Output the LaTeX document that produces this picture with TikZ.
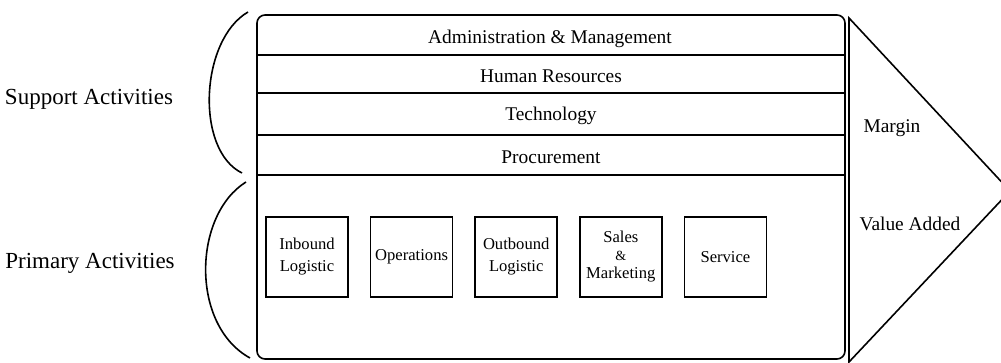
\documentclass[tikz,border=0pt]{standalone}
\usepackage{fontspec}
\setmainfont{Liberation Serif}
\usetikzlibrary{positioning}

\begin{document}
\begin{tikzpicture}[x=0.5pt,y=-0.5pt,line width=0.8pt,node distance=10.5pt,
		box node/.style = {rectangle,draw, inner sep = 0pt, minimum width = 41pt, minimum height = 40pt,
			align=center, font=\fontsize{8.3}{11}\selectfont},
		strip node/.style = {inner sep = 0pt, font=\fontsize{9.7}{11}\selectfont},
		side node/.style = {inner sep = 0pt, font=\fontsize{11.5}{13}\selectfont}]
	\useasboundingbox (0,0) rectangle (1001,363);
	
	% chain frame, support strips and margin arrow
	\draw[rounded corners=4pt] (257,15) rectangle (845,359);
	\foreach \y in {55,93,135,175}
		\draw (257,\y) -- (845,\y);
	\draw (849,18) -- (1010,191) -- (849,362) -- cycle;
	
	\node[strip node] (6) at (550,39) {Administration \& Management};
	\node[strip node] (7) at (551,76) {Human Resources};
	\node[strip node] (8) at (551,116) {Technology};
	\node[strip node] (9) at (551,157) {Procurement};
	
	\node[box node] (1) at (307,257) {Inbound\\Logistic};
	\node[box node] [right = of 1] (2) {Operations};
	\node[box node] [right = of 2] (3) {Outbound\\Logistic};
	\node[box node] [right = of 3] (4) {Sales\\[-2pt]{\scriptsize\&}\\[-2pt]Marketing};
	\node[box node] [right = of 4] (5) {Service};
	
	\node[strip node] (10) at (892,128) {Margin};
	\node[strip node] (11) at (910,224) {Value Added};
	
	% braces on the left
	\draw (248,12) .. controls (200,40) and (195,150) .. (242,173);
	\draw (246,182) .. controls (193,215) and (190,325) .. (250,358);
	\node[side node] (12) at (89,99) {Support Activities};
	\node[side node] (13) at (90,263) {Primary Activities};
	
\end{tikzpicture}
\end{document}
